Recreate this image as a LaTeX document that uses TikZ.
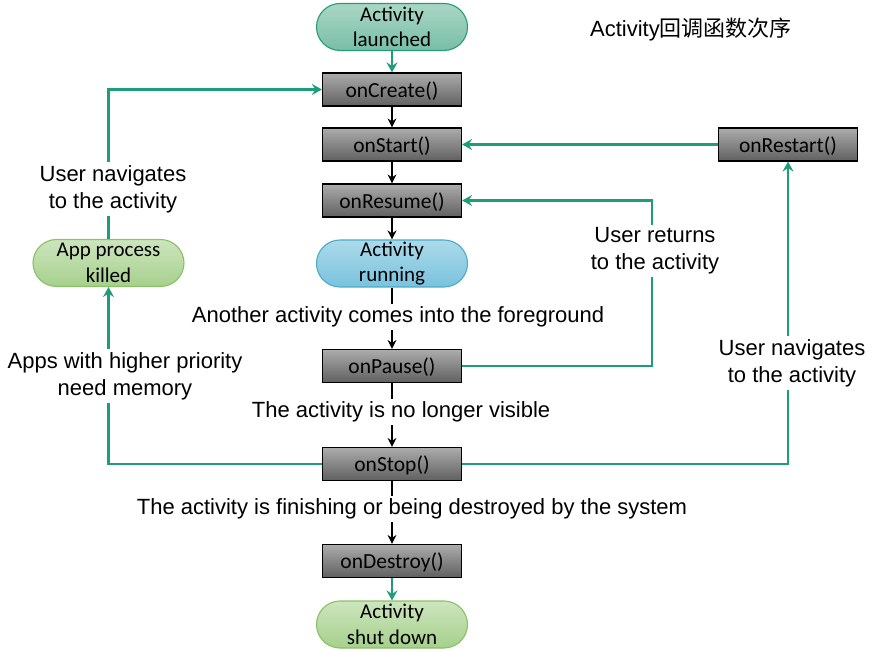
\documentclass[tikz,border=0pt]{standalone}
\usepackage{fontspec}
\setmainfont{Liberation Sans}
\newfontfamily\boxfont{Carlito}
\newfontfamily\cjkfont{Noto Sans CJK SC}
\usetikzlibrary{arrows.meta}
\definecolor{tealline}{RGB}{30,158,120}
\definecolor{launchtop}{RGB}{170,215,198}
\definecolor{launchbot}{RGB}{120,190,166}
\definecolor{launchdraw}{RGB}{40,155,120}
\definecolor{runtop}{RGB}{172,218,234}
\definecolor{runbot}{RGB}{122,194,222}
\definecolor{rundraw}{RGB}{75,172,198}
\definecolor{greentop}{RGB}{205,229,190}
\definecolor{greenbot}{RGB}{166,208,140}
\definecolor{greendraw}{RGB}{140,192,104}
\definecolor{boxtop}{RGB}{172,172,172}
\definecolor{boxbot}{RGB}{96,96,96}
\tikzset{
  fn/.style={draw=black, line width=1.2pt, top color=boxtop, bottom color=boxbot,
    minimum width=139pt, minimum height=33pt, inner sep=0pt,
    text height=16pt, text depth=0.5pt,
    font=\boxfont\fontsize{21.5}{24}\selectfont},
  pill/.style={rounded corners=23.5pt, minimum width=151pt, minimum height=47pt,
    line width=1.1pt, align=center, inner sep=0pt,
    font=\boxfont\fontsize{21}{25.5}\selectfont},
  launchpill/.style={pill, draw=launchdraw, top color=launchtop, bottom color=launchbot},
  runpill/.style={pill, draw=rundraw, top color=runtop, bottom color=runbot},
  greenpill/.style={pill, draw=greendraw, top color=greentop, bottom color=greenbot},
  tealarrow/.style={draw=tealline, line width=2.3pt, -{Stealth[length=10pt,width=11pt,inset=3.5pt]}},
  blackarrow/.style={draw=black, line width=2pt, -{Stealth[length=9pt,width=9pt,inset=3pt]}},
  lbl/.style={fill=white, align=center, inner sep=3pt, font=\fontsize{22}{27}\selectfont},
}
\begin{document}
\begin{tikzpicture}[x=1pt,y=-1pt]
\useasboundingbox (0,0) rectangle (878,652);
\fill[white] (0,0) rectangle (878,652);
% boxes
\node[launchpill] (launched) at (392,27) {Activity\\launched};
\node[fn] (create) at (392,89.5) {onCreate()};
\node[fn] (start) at (392,144.5) {onStart()};
\node[fn] (resume) at (392,200.5) {onResume()};
\node[runpill] (running) at (392,263.5) {Activity\\running};
\node[fn] (pause) at (392,366) {onPause()};
\node[fn] (stop) at (392,464) {onStop()};
\node[fn] (destroy) at (392,561) {onDestroy()};
\node[greenpill] (shut) at (392,624.5) {Activity\\shut down};
\node[fn] (restart) at (788,144.5) {onRestart()};
\node[greenpill] (killed) at (108.5,263) {App process\\killed};
\coordinate (back) at (652,200.5);
% connectors
\draw[tealarrow] (launched) -- (create);
\draw[blackarrow] (create) -- (start);
\draw[blackarrow] (start) -- (resume);
\draw[blackarrow] (resume) -- (running);
\draw[blackarrow] (running) -- (pause);
\draw[blackarrow] (pause) -- (stop);
\draw[blackarrow] (stop) -- (destroy);
\draw[tealarrow] (destroy) -- (shut);
\draw[tealarrow] (stop.west) -| (killed.south);
\draw[tealarrow] (killed.north) |- (create.west);
\draw[tealarrow] (pause.east) -| (back) -- (resume.east);
\draw[tealarrow] (stop.east) -| (restart.south);
\draw[tealarrow] (restart.west) -- (start.east);
% labels
\node[lbl] (l1) at (398,317) {Another activity comes into the foreground};
\node[lbl] (l2) at (401,412) {The activity is no longer visible};
\node[lbl] (l3) at (412,509) {The activity is finishing or being destroyed by the system};
\node[lbl] (l4) at (113,189) {User navigates\\to the activity};
\node[lbl] (l5) at (125,376) {Apps with higher priority\\need memory};
\node[lbl] (l6) at (655,251) {User returns\\to the activity};
\node[lbl] (l7) at (792,363) {User navigates\\to the activity};
\node[font=\fontsize{22}{26}\selectfont, inner sep=0pt] (title) at (691,29) {Activity{\cjkfont 回调函数次序}};
\end{tikzpicture}
\end{document}
